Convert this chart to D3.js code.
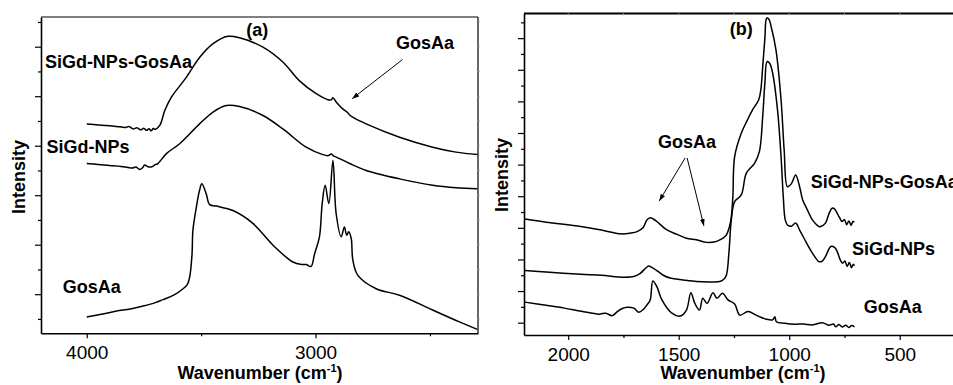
<!DOCTYPE html>
<html>
<head>
<meta charset="utf-8">
<script src="https://d3js.org/d3.v7.min.js"></script>
<style>
  body { margin: 0; background: #fff; }
  svg { display: block; font-family: "Liberation Sans", Arial, sans-serif; }
  .tick text { font-size: 19px; fill: #000; }
  .lbl { font-size: 18px; font-weight: bold; fill: #000; }
</style>
</head>
<body>
<svg id="chart" width="953" height="385"></svg>
<script>
// ---- panel (a): 4000-2300 cm-1 ----
const aTicksMajor = [4000, 3000];
const aTicksMinor = [3500, 2500];

const aSgWave = [4000, 3950, 3914, 3870, 3830, 3815, 3798, 3780, 3765, 3750, 3739, 3728, 3718, 3710, 3703, 3681, 3659, 3630, 3565, 3507, 3448, 3383, 3332, 3230, 3143, 3070, 2997, 2946, 2930, 2924, 2909, 2880, 2860, 2851, 2840, 2779, 2633, 2488, 2386, 2293];
const aSgInt = [3.44, 3.42, 3.41, 3.39, 3.37, 3.39, 3.34, 3.36, 3.32, 3.35, 3.31, 3.34, 3.30, 3.35, 3.33, 3.41, 3.71, 3.98, 4.38, 4.78, 5.06, 5.21, 5.18, 4.99, 4.69, 4.31, 4.05, 3.93, 3.93, 3.97, 3.88, 3.74, 3.67, 3.62, 3.58, 3.44, 3.17, 2.97, 2.87, 2.82];

const aSWave = [4000, 3950, 3900, 3850, 3820, 3800, 3785, 3769, 3757, 3747, 3735, 3718, 3700, 3689, 3652, 3594, 3507, 3448, 3390, 3332, 3230, 3143, 3041, 2968, 2945, 2932, 2920, 2909, 2851, 2779, 2633, 2488, 2386, 2293];
const aSInt = [2.64, 2.62, 2.60, 2.58, 2.56, 2.55, 2.57, 2.52, 2.55, 2.61, 2.58, 2.57, 2.62, 2.64, 2.84, 3.04, 3.44, 3.68, 3.81, 3.79, 3.61, 3.34, 2.97, 2.82, 2.80, 2.83, 2.79, 2.77, 2.64, 2.50, 2.33, 2.20, 2.15, 2.13];

const aGWave = [4000, 3930, 3870, 3810, 3754, 3700, 3667, 3620, 3579, 3560, 3550, 3540, 3536, 3521, 3507, 3497, 3478, 3463, 3434, 3361, 3274, 3186, 3099, 3060, 3041, 3020, 3004, 2983, 2971, 2958, 2942, 2924, 2910, 2888, 2874, 2864, 2855, 2844, 2837, 2815, 2735, 2633, 2488, 2371, 2293];
const aGInt = [-0.46, -0.40, -0.34, -0.30, -0.24, -0.17, -0.11, -0.02, 0.11, 0.20, 0.35, 0.80, 1.29, 1.76, 2.10, 2.23, 2.03, 1.81, 1.78, 1.69, 1.43, 0.99, 0.65, 0.60, 0.60, 0.56, 0.82, 1.16, 1.83, 2.20, 1.83, 2.70, 1.63, 1.16, 1.36, 1.19, 1.26, 1.12, 0.69, 0.38, 0.11, -0.02, -0.32, -0.56, -0.71];

// ---- panel (b): 2200-250 cm-1 ----
const bTicksMajor = [2000, 1500, 1000, 500];
const bTicksMinor = [1750, 1250, 750];

const bSgWave = [2196, 2100, 1943, 1850, 1763, 1720, 1688, 1660, 1644, 1629, 1615, 1599, 1555, 1510, 1465, 1420, 1374, 1340, 1314, 1295, 1284, 1270, 1262, 1255, 1247, 1217, 1190, 1166, 1138, 1128, 1120, 1110, 1102, 1092, 1082, 1060, 1037, 1023, 1008, 990, 971, 953, 939, 918, 895, 865, 858, 836, 820, 806, 795, 783, 772, 761, 750, 740, 730, 720, 712, 705];
const bSgInt = [3.28, 3.18, 3.04, 2.93, 2.81, 2.83, 2.88, 3.02, 3.25, 3.32, 3.28, 3.20, 2.94, 2.80, 2.67, 2.62, 2.54, 2.55, 2.62, 2.70, 2.78, 3.05, 3.35, 3.99, 5.25, 5.99, 6.40, 6.73, 7.05, 7.40, 8.10, 9.00, 9.63, 9.60, 9.37, 8.63, 7.05, 5.47, 4.30, 4.40, 4.67, 4.30, 3.88, 3.57, 3.25, 3.04, 3.04, 3.15, 3.45, 3.62, 3.60, 3.46, 3.32, 3.20, 3.26, 3.10, 3.22, 3.08, 3.20, 3.18];

const bSWave = [2196, 2100, 1943, 1850, 1749, 1700, 1674, 1650, 1636, 1620, 1599, 1570, 1539, 1480, 1419, 1360, 1314, 1295, 1284, 1273, 1262, 1247, 1217, 1194, 1157, 1135, 1120, 1110, 1100, 1088, 1075, 1053, 1037, 1027, 1018, 1008, 990, 971, 953, 920, 895, 865, 850, 836, 812, 795, 783, 770, 759, 748, 738, 728, 718, 710, 705];
const bSInt = [1.65, 1.60, 1.53, 1.50, 1.44, 1.47, 1.56, 1.72, 1.79, 1.74, 1.65, 1.50, 1.41, 1.35, 1.30, 1.29, 1.30, 1.38, 1.51, 2.20, 3.25, 3.83, 4.04, 4.73, 5.04, 5.41, 6.52, 7.60, 8.26, 8.20, 7.89, 6.73, 5.25, 3.99, 3.25, 3.09, 3.05, 3.15, 2.93, 2.50, 2.20, 1.93, 1.95, 2.09, 2.41, 2.38, 2.25, 2.00, 1.88, 1.95, 1.78, 1.90, 1.74, 1.85, 1.80];

const bGWave = [2196, 2100, 2018, 1940, 1861, 1830, 1801, 1778, 1755, 1733, 1703, 1681, 1660, 1644, 1629, 1617, 1599, 1576, 1531, 1494, 1465, 1445, 1427, 1406, 1391, 1372, 1345, 1327, 1302, 1277, 1247, 1224, 1187, 1150, 1128, 1105, 1075, 1065, 1058, 1020, 977, 935, 895, 850, 820, 800, 790, 775, 760, 745, 730, 718, 705];
const bGInt = [0.65, 0.55, 0.46, 0.36, 0.27, 0.30, 0.22, 0.35, 0.45, 0.49, 0.46, 0.33, 0.42, 0.56, 0.72, 1.32, 1.14, 0.72, 0.30, 0.21, 0.40, 0.95, 0.61, 0.40, 0.77, 0.61, 0.95, 0.77, 0.93, 0.72, 0.59, 0.24, 0.35, 0.24, 0.17, 0.11, 0.09, 0.19, 0.03, -0.02, -0.05, -0.04, -0.07, 0.00, -0.08, -0.04, -0.13, -0.06, -0.14, -0.08, -0.15, -0.09, -0.13];

const zip = (w, v) => w.map((d, i) => [d, v[i]]);

const svg = d3.select('#chart');

const defs = svg.append('defs');
defs.append('marker')
  .attr('id', 'head')
  .attr('viewBox', '0 0 10 10')
  .attr('refX', 10).attr('refY', 5)
  .attr('markerWidth', 7).attr('markerHeight', 7)
  .attr('orient', 'auto')
  .append('path')
  .attr('d', 'M0,1.5 L10,5 L0,8.5 Z')
  .attr('fill', '#000');

function panel(cfg) {
  const x = d3.scaleLinear().domain(cfg.xDomain).range(cfg.xRange);
  const y = d3.scaleLinear().domain(cfg.yDomain).range(cfg.yRange);
  const g = svg.append('g');
  const [x0, x1] = cfg.xRange;
  const [y0, y1] = cfg.yRange;

  // curves
  const line = d3.line()
    .x(d => x(d[0]))
    .y(d => y(d[1]))
    .curve(d3.curveCatmullRom.alpha(0.5));
  cfg.series.forEach(s => {
    g.append('path')
      .datum(s)
      .attr('fill', 'none')
      .attr('stroke', '#000')
      .attr('stroke-width', 1.5)
      .attr('stroke-linejoin', 'round')
      .attr('d', line);
  });

  // frame: top + right
  g.append('line').attr('x1', x0).attr('x2', x1).attr('y1', y1).attr('y2', y1)
    .attr('stroke', '#000').attr('stroke-width', cfg.topWidth);
  g.append('line').attr('x1', x1).attr('x2', x1).attr('y1', y0).attr('y2', y1)
    .attr('stroke', '#000').attr('stroke-width', 1.2);

  // small top ticks / right ticks
  if (cfg.topTicks) {
    g.selectAll('.tt').data(cfg.topTicks).enter().append('line')
      .attr('x1', d => x(d)).attr('x2', d => x(d))
      .attr('y1', y1).attr('y2', y1 + 2)
      .attr('stroke', '#bbb').attr('stroke-width', 1);
  }
  if (cfg.rightTicks) {
    g.selectAll('.rt').data(cfg.rightTicks).enter().append('line')
      .attr('x1', x1).attr('x2', x1 + 2)
      .attr('y1', d => y(d)).attr('y2', d => y(d))
      .attr('stroke', '#aaa').attr('stroke-width', 1);
  }

  // bottom axis
  const bx = g.append('g').attr('transform', `translate(0,${y0})`);
  bx.call(d3.axisBottom(x).tickValues(cfg.xMinor).tickSize(3).tickFormat(''))
    .call(a => a.select('.domain').remove());
  const bxm = g.append('g').attr('transform', `translate(0,${y0})`);
  bxm.call(d3.axisBottom(x).tickValues(cfg.xMajor).tickSize(5).tickSizeOuter(0).tickFormat(d3.format('d')));
  bxm.select('.domain').attr('stroke-width', 1.6);
  bxm.selectAll('.tick text').attr('y', 26).attr('dy', 0);
  g.selectAll('.tick line').attr('stroke-width', 1.2);

  // left axis
  const ly = g.append('g').attr('transform', `translate(${x0},0)`);
  ly.call(d3.axisLeft(y).tickValues(cfg.yMinor).tickSize(3).tickFormat(''))
    .call(a => a.select('.domain').remove());
  const lym = g.append('g').attr('transform', `translate(${x0},0)`);
  lym.call(d3.axisLeft(y).tickValues(cfg.yMajor).tickSize(6).tickSizeOuter(0).tickFormat(''));
  lym.select('.domain').attr('stroke-width', 1.6);
  g.selectAll('.tick line').attr('stroke-width', 1.2);

  // titles
  const t = g.append('text').attr('class', 'lbl')
    .attr('x', cfg.xTitleX).attr('y', 379)
    .attr('text-anchor', 'middle');
  t.append('tspan').text('Wavenumber (cm');
  t.append('tspan').attr('font-size', '11px').attr('dy', -7).text('-1');
  t.append('tspan').attr('dy', 7).text(')');

  g.append('text').attr('class', 'lbl')
    .attr('transform', `translate(${cfg.yTitleX},${cfg.yTitleY}) rotate(-90)`)
    .attr('text-anchor', 'middle')
    .text('Intensity');

  // labels
  cfg.labels.forEach(l => {
    g.append('text').attr('class', 'lbl')
      .attr('x', x(l[1])).attr('y', y(l[2]))
      .text(l[0]);
  });
  cfg.arrows.forEach(a => {
    g.append('line')
      .attr('x1', x(a[0])).attr('y1', y(a[1]))
      .attr('x2', x(a[2])).attr('y2', y(a[3]))
      .attr('stroke', '#000').attr('stroke-width', 1)
      .attr('marker-end', 'url(#head)');
  });
}

const range = (a, b, s) => d3.range(a, b + 1e-9, s);

panel({
  xDomain: [4200, 2290], xRange: [41, 478],
  yDomain: [-0.79, 5.6], yRange: [333.3, 17],
  xMajor: aTicksMajor, xMinor: aTicksMinor,
  yMajor: range(0, 5, 1), yMinor: range(-0.5, 5.5, 1),
  topWidth: 1.2,
  rightTicks: range(-0.5, 5.5, 0.5),
  xTitleX: 260, yTitleX: 25, yTitleY: 177,
  series: [zip(aSgWave, aSgInt), zip(aSWave, aSInt), zip(aGWave, aGInt)],
  labels: [
    ['SiGd-NPs-GosAa', 4183, 4.56],
    ['SiGd-NPs', 4176, 2.86],
    ['GosAa', 4105, 0.02],
    ['(a)', 3303, 5.22],
    ['GosAa', 2648, 4.96]
  ],
  arrows: [[2620, 4.74, 2840, 3.95]]
});

panel({
  xDomain: [2200, 250], xRange: [524, 955],
  yDomain: [-0.39, 9.78], yRange: [335, 13.5],
  xMajor: bTicksMajor, xMinor: bTicksMinor,
  yMajor: range(0, 9, 1), yMinor: range(0.5, 9.5, 1),
  topWidth: 2,
  topTicks: range(250, 2000, 250),
  xTitleX: 743, yTitleX: 508, yTitleY: 175,
  series: [zip(bSgWave, bSgInt), zip(bSWave, bSInt), zip(bGWave, bGInt)],
  labels: [
    ['GosAa', 1594, 5.53],
    ['(b)', 1269, 9.10],
    ['SiGd-NPs-GosAa', 903, 4.26],
    ['SiGd-NPs', 716, 2.14],
    ['GosAa', 663, 0.31]
  ],
  arrows: [[1471, 5.21, 1588, 3.85], [1462, 5.21, 1386, 3.06]]
});
</script>
</body>
</html>
